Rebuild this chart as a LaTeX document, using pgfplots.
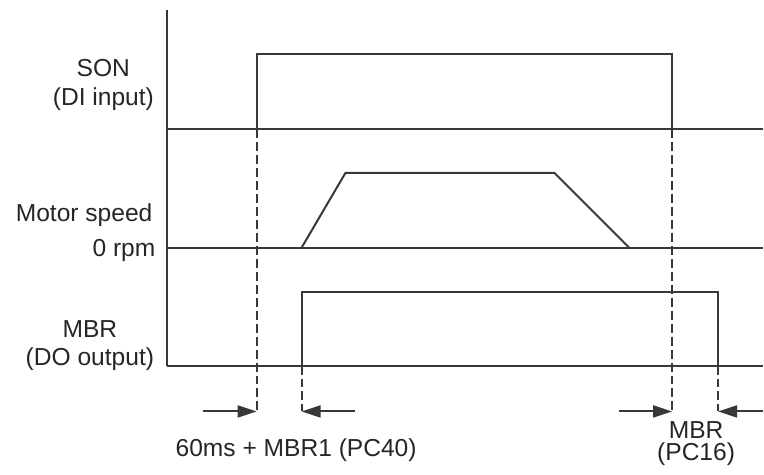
\documentclass[border=0pt]{standalone}
\usepackage{fontspec}
\setmainfont{Liberation Sans}
\usepackage{pgfplots}
\pgfplotsset{compat=1.18}
\usetikzlibrary{arrows.meta}
\definecolor{ln}{HTML}{383838}
\begin{document}
\begin{tikzpicture}
\begin{axis}[
  xmin=0, xmax=764, ymin=0, ymax=475, y dir=reverse,
  scale only axis, width=382pt, height=237.5pt,
  hide axis, clip=false,
  sig/.style={line width=1pt, draw=ln, mark=none},
  dsh/.style={line width=1pt, draw=ln, mark=none, dash pattern=on 4.5pt off 2pt},
  arr/.style={line width=1pt, draw=ln, fill=ln, mark=none, -{Triangle[length=9.5pt,width=6pt]}},
]
\path (axis cs:0,0) rectangle (axis cs:764,475);
% left vertical line
\addplot[sig] coordinates {(167,10) (167,366)};
% baselines
\addplot[sig] coordinates {(167,129) (764,129)};
\addplot[sig] coordinates {(167,248) (764,248)};
\addplot[sig] coordinates {(167,366) (764,366)};
% SON pulse
\addplot[sig] coordinates {(257,129) (257,54) (673,54) (673,129)};
% Motor speed profile
\addplot[sig] coordinates {(302,248) (346,173) (555,173) (630,248)};
% MBR pulse
\addplot[sig] coordinates {(302,366) (302,292) (719,292) (719,366)};
% dashed guide lines
\addplot[dsh] coordinates {(257,129) (257,412)};
\addplot[dsh] coordinates {(673,129) (673,412)};
\addplot[dsh] coordinates {(302,366) (302,412)};
\addplot[dsh] coordinates {(719,366) (719,412)};
% arrows
\addplot[arr] coordinates {(203,412) (257,412)};
\addplot[arr] coordinates {(355,412) (302,412)};
\addplot[arr] coordinates {(620,412) (673,412)};
\addplot[arr] coordinates {(764,412) (719,412)};
% labels
\tikzset{lbl/.style={font=\fontsize{12.3}{14}\selectfont, inner sep=0pt, text=black!85}}
\node[lbl, anchor=base] at (axis cs:103.5,77) {SON};
\node[lbl, anchor=base] at (axis cs:103.5,106) {(DI input)};
\node[lbl, anchor=base east] at (axis cs:153,222) {Motor speed};
\node[lbl, anchor=base east] at (axis cs:156,257) {0 rpm};
\node[lbl, anchor=base] at (axis cs:90,338) {MBR};
\node[lbl, anchor=base] at (axis cs:90,366) {(DO output)};
\node[lbl, anchor=base] at (axis cs:296.5,457) {60ms + MBR1 (PC40)};
\node[lbl, anchor=base] at (axis cs:697,439) {MBR};
\node[lbl, anchor=base] at (axis cs:697,461) {(PC16)};
\end{axis}
\end{tikzpicture}
\end{document}
